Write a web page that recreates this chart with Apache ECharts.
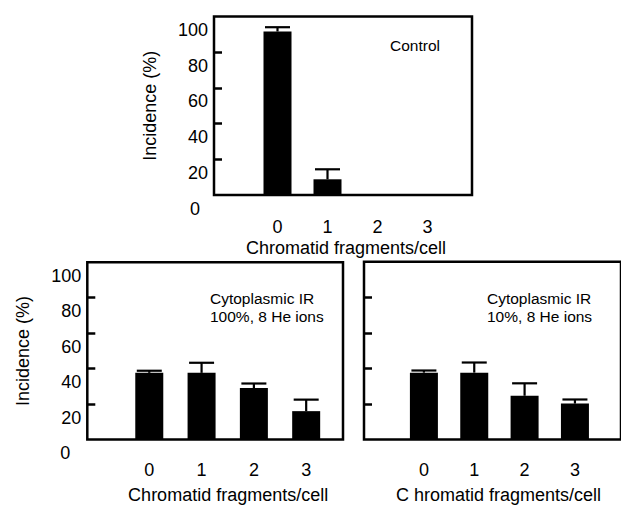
<!DOCTYPE html>
<html>
<head>
<meta charset="utf-8">
<script src="https://cdn.jsdelivr.net/npm/echarts@6/dist/echarts.min.js"></script>
<style>
html,body{margin:0;padding:0;background:#fff;}
#chart{width:621px;height:505px;}
</style>
</head>
<body>
<div id="chart"></div>
<script>
// ---- data ----
const categories = [0, 1, 2, 3];
const yLabelValues = [0, 20, 40, 60, 80, 100];
const yTickValues = [20, 40, 60, 80];
const controlValues = [91.6, 8.8, 0, 0];
const controlErrors = [2.4, 5.6, 0, 0];
const ir100Values = [37.6, 37.6, 29.0, 16.0];
const ir100Errors = [1.2, 5.7, 2.6, 6.5];
const ir10Values = [37.6, 37.6, 24.6, 20.2];
const ir10Errors = [1.2, 5.7, 7.0, 2.3];
const xTitle = 'Chromatid fragments/cell';
const xTitleRight = 'C hromatid fragments/cell';
const yTitle = 'Incidence (%)';
const noteControl = 'Control';
const note100 = 'Cytoplasmic IR\n100%, 8 He ions';
const note10 = 'Cytoplasmic IR\n10%, 8 He ions';

const FF = '"Liberation Sans", Arial, Helvetica, sans-serif';
const chart = echarts.init(document.getElementById('chart'), null, {renderer: 'svg'});

const grids = [
  {left: 214, top: 16.5, width: 258, height: 178.5},
  {left: 87.3, top: 262.3, width: 255.7, height: 178.7},
  {left: 364, top: 261.7, width: 267, height: 179.3}
].map(g => Object.assign(g, {show: true, borderColor: '#000', borderWidth: 2.5, backgroundColor: 'transparent'}));

const xRanges = [[-1.27, 3.89], [-1.185, 3.704], [-1.19, 3.915]];
const xNames = [xTitle, xTitle, xTitleRight];
const xNameGaps = [44, 46.5, 46.5];
const xNamePad = [6, 26, 12];
const xLabelMargins = [23, 21.7, 21.7];

const xAxes = xRanges.map((r, i) => ({
  type: 'value', gridIndex: i, min: r[0], max: r[1],
  axisLine: {show: false, onZero: false}, axisTick: {show: false}, splitLine: {show: false},
  axisLabel: {
    customValues: categories, margin: xLabelMargins[i],
    fontFamily: FF, fontSize: 18, color: '#000', lineHeight: 18
  },
  name: xNames[i], nameLocation: 'middle', nameGap: xNameGaps[i],
  nameTextStyle: {fontFamily: FF, fontSize: 18, color: '#000', lineHeight: 18, padding: [0, 0, 0, xNamePad[i]]}
}));

const zeroPad = [8, 11, 0];
const yAxes = [0, 1, 2].map(i => ({
  type: 'value', gridIndex: i, min: 0, max: 100,
  axisLine: {show: false, onZero: false}, splitLine: {show: false},
  axisTick: {show: true, inside: true, length: 8, customValues: yTickValues, lineStyle: {color: '#000', width: 2.5}},
  axisLabel: {
    show: i < 2, customValues: yLabelValues, margin: 6,
    fontFamily: FF, fontSize: 18, color: '#000', lineHeight: 18,
    verticalAlign: 'top', padding: [4.5, 0, 0, 0],
    formatter: v => v === 0 ? '{z|0}' : String(v),
    rich: {z: {fontFamily: FF, fontSize: 18, color: '#000', lineHeight: 18, padding: [0, zeroPad[i], 0, 0]}}
  },
  name: i < 2 ? yTitle : '', nameLocation: 'middle', nameGap: 55, nameRotate: 90,
  nameTextStyle: {fontFamily: FF, fontSize: 18, color: '#000', lineHeight: 18}
}));

const sets = [[controlValues, controlErrors], [ir100Values, ir100Errors], [ir10Values, ir10Errors]];
const series = [];
sets.forEach((s, i) => {
  const vals = s[0], errs = s[1];
  series.push({
    type: 'bar', xAxisIndex: i, yAxisIndex: i, barWidth: 28,
    itemStyle: {color: '#000'}, silent: true,
    data: categories.map((c, k) => [c, vals[k]])
  });
  series.push({
    type: 'custom', xAxisIndex: i, yAxisIndex: i, silent: true, z: 3,
    encode: {x: 0, y: [1, 2]},
    data: categories.filter((c, k) => vals[k] > 0).map(c => {
      const k = categories.indexOf(c);
      return [c, vals[k], vals[k] + errs[k]];
    }),
    renderItem: (params, api) => {
      const p0 = api.coord([api.value(0), api.value(1)]);
      const p1 = api.coord([api.value(0), api.value(2)]);
      const hw = 12.5;
      const st = {stroke: '#000', lineWidth: 2.2};
      return {type: 'group', children: [
        {type: 'line', shape: {x1: p0[0], y1: p0[1], x2: p1[0], y2: p1[1]}, style: st},
        {type: 'line', shape: {x1: p1[0] - hw, y1: p1[1], x2: p1[0] + hw, y2: p1[1]}, style: st}
      ]};
    }
  });
});

const noteStyle = {fontFamily: FF, fontSize: 15.5, fill: '#000', lineHeight: 18, textVerticalAlign: 'middle'};
const graphic = [
  {type: 'text', left: 390, top: 36, style: Object.assign({text: noteControl}, noteStyle)},
  {type: 'text', left: 210, top: 289, style: Object.assign({text: note100}, noteStyle)},
  {type: 'text', left: 487, top: 289, style: Object.assign({text: note10}, noteStyle)}
];

chart.setOption({
  animation: false,
  backgroundColor: '#fff',
  grid: grids, xAxis: xAxes, yAxis: yAxes, series: series, graphic: graphic
});
</script>
</body>
</html>
